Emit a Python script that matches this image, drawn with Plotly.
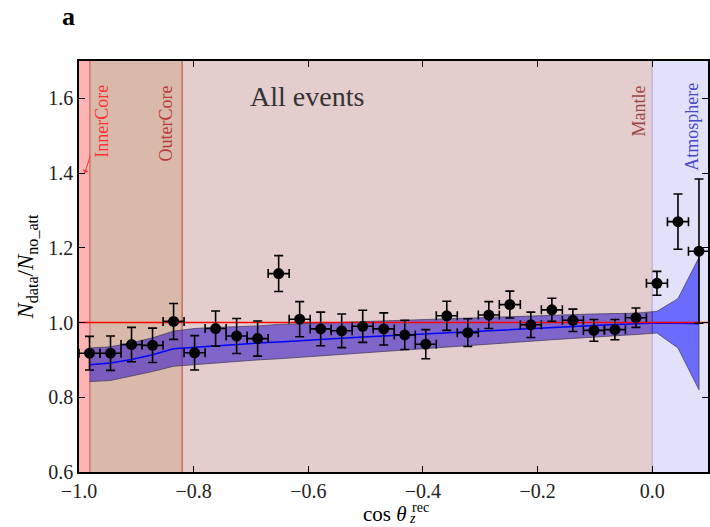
import numpy as np
import plotly.graph_objects as go

# Reconstructed zenith binning: 30 bins from cos = -1.0 to 0.1
bin_edges = np.linspace(-1.0, 0.1, 31)
bin_centers = 0.5 * (bin_edges[:-1] + bin_edges[1:])
half_width = 0.5 * (bin_edges[1] - bin_edges[0])

# Measured ratio N_data / N_no_att and its uncertainty
ratio = [0.918, 0.918, 0.941, 0.939, 1.003, 0.919, 0.984, 0.964, 0.957, 1.131,
         1.009, 0.983, 0.978, 0.990, 0.983, 0.967, 0.942, 1.018, 0.973, 1.020,
         1.048, 0.994, 1.034, 1.006, 0.979, 0.981, 1.013, 1.105, 1.270, 1.191]
ratio_err = [0.045, 0.046, 0.046, 0.046, 0.048, 0.046, 0.047, 0.047, 0.047, 0.048,
             0.047, 0.045, 0.045, 0.043, 0.043, 0.039, 0.039, 0.039, 0.037, 0.036,
             0.036, 0.034, 0.031, 0.030, 0.029, 0.027, 0.026, 0.032, 0.074, 0.193]

# Expected ratio (central) with its uncertainty band
pred_mid = [0.887, 0.892, 0.901, 0.914, 0.930, 0.934, 0.938, 0.943, 0.945, 0.948,
            0.952, 0.955, 0.958, 0.961, 0.964, 0.967, 0.970, 0.973, 0.975, 0.978,
            0.981, 0.984, 0.987, 0.990, 0.992, 0.995, 0.997, 0.999, 0.998, 0.997]
pred_hi = [0.932, 0.935, 0.946, 0.959, 0.977, 0.984, 0.987, 0.989, 0.991, 0.995,
           0.997, 0.999, 1.001, 1.003, 1.005, 1.007, 1.009, 1.011, 1.013, 1.014,
           1.016, 1.018, 1.020, 1.022, 1.023, 1.024, 1.025, 1.030, 1.064, 1.174]
pred_lo = [0.842, 0.845, 0.856, 0.869, 0.883, 0.887, 0.892, 0.896, 0.900, 0.903,
           0.905, 0.909, 0.913, 0.917, 0.922, 0.926, 0.930, 0.934, 0.938, 0.942,
           0.946, 0.950, 0.954, 0.958, 0.962, 0.965, 0.968, 0.972, 0.932, 0.820]

# Earth-layer boundaries in cos(theta_z)
inner_core_edge = -0.981
outer_core_edge = -0.820
surface_edge = 0.0
x_min, x_max = -1.0, 0.0974
y_min, y_max = 0.6, 1.7

serif = "Liberation Serif, Times New Roman, serif"

fig = go.Figure()

# Band split at the surface so the below-horizon part reads purple over the Earth shading
xc = np.asarray(bin_centers)
lo = np.asarray(pred_lo)
hi = np.asarray(pred_hi)
lo0 = float(np.interp(surface_edge, xc, lo))
hi0 = float(np.interp(surface_edge, xc, hi))
below = xc < surface_edge
above = xc > surface_edge


def band(xs, ylo, yhi, fill):
    xs = list(xs)
    fig.add_trace(go.Scatter(
        x=xs + xs[::-1], y=list(yhi) + list(ylo)[::-1],
        fill="toself", fillcolor=fill, mode="lines",
        line=dict(color="rgba(70,60,90,0.75)", width=1),
        hoverinfo="skip", showlegend=False))


band(list(xc[below]) + [surface_edge], list(lo[below]) + [lo0], list(hi[below]) + [hi0],
     "rgba(60,30,200,0.6)")
band([surface_edge] + list(xc[above]), [lo0] + list(lo[above]), [hi0] + list(hi[above]),
     "rgba(0,0,255,0.52)")

# Central expectation
fig.add_trace(go.Scatter(x=bin_centers, y=pred_mid, mode="lines",
                         line=dict(color="#0000ff", width=1.5),
                         hoverinfo="skip", showlegend=False))

# Reference line at ratio = 1
fig.add_trace(go.Scatter(x=[x_min, x_max], y=[1.0, 1.0], mode="lines",
                         line=dict(color="#ff0000", width=1.5),
                         hoverinfo="skip", showlegend=False))

# Data points
fig.add_trace(go.Scatter(
    x=bin_centers, y=ratio, mode="markers",
    marker=dict(color="black", size=11),
    error_y=dict(type="data", array=ratio_err, color="black", thickness=1.6, width=4.5),
    error_x=dict(type="constant", value=half_width, color="black", thickness=1.6, width=4.5),
    showlegend=False))

# Earth-layer shading
regions = [
    (x_min, inner_core_edge, "#ffb3b3"),
    (inner_core_edge, outer_core_edge, "#d9b9aa"),
    (outer_core_edge, surface_edge, "#e3cdcd"),
    (surface_edge, x_max, "#e1e1f9"),
]
shapes = []
for x0, x1, col in regions:
    shapes.append(dict(type="rect", xref="x", yref="y", x0=x0, x1=x1, y0=y_min, y1=y_max,
                       fillcolor=col, line=dict(width=0), layer="below"))
for xv, col in [(inner_core_edge, "#d06060"), (outer_core_edge, "#c05a4a"),
                (surface_edge, "#b8a8e8")]:
    shapes.append(dict(type="line", xref="x", yref="y", x0=xv, x1=xv, y0=y_min, y1=y_max,
                       line=dict(color=col, width=1.2), layer="below"))


def px_to_x(px):
    return (px - 79) / 575.0 - 1.0


def py_to_y(py):
    return 1.0 + (323 - py) / 372.5


annotations = [
    dict(text="<b>a</b>", xref="paper", yref="paper", x=(68 - 79) / 631.0,
         y=(472 - 17) / 411.0, xanchor="center", yanchor="middle", showarrow=False,
         font=dict(family=serif, size=26, color="black")),
    dict(text="All events", xref="x", yref="y", x=px_to_x(308), y=py_to_y(98),
         xanchor="center", yanchor="middle", showarrow=False,
         font=dict(family=serif, size=28, color="#333333")),
    dict(text="InnerCore", xref="x", yref="y", x=-0.99, y=1.4, ax=17, ay=-52,
         textangle=-90, showarrow=True, arrowhead=1, arrowsize=1, arrowwidth=1,
         arrowcolor="#ff3030", font=dict(family=serif, size=18, color="#ff3030")),
    dict(text="OuterCore", xref="x", yref="y", x=px_to_x(166), y=py_to_y(85),
         textangle=-90, xanchor="center", yanchor="top", showarrow=False,
         font=dict(family=serif, size=18, color="#b83a3a")),
    dict(text="Mantle", xref="x", yref="y", x=px_to_x(641), y=py_to_y(85),
         textangle=-90, xanchor="center", yanchor="top", showarrow=False,
         font=dict(family=serif, size=18, color="#a04545")),
    dict(text="Atmosphere", xref="x", yref="y", x=px_to_x(694), y=py_to_y(82),
         textangle=-90, xanchor="center", yanchor="top", showarrow=False,
         font=dict(family=serif, size=18, color="#4848c8")),
    # x-axis label: cos theta with stacked sub/superscripts
    dict(text="cos <i>θ</i>", xref="paper", yref="paper", x=(409 - 79) / 631.0,
         y=(472 - 514) / 411.0, xanchor="right", yanchor="middle", showarrow=False,
         borderpad=0, font=dict(family=serif, size=21, color="black")),
    dict(text="rec", xref="paper", yref="paper", x=(412 - 79) / 631.0,
         y=(472 - 507) / 411.0, xanchor="left", yanchor="middle", showarrow=False,
         borderpad=0, font=dict(family=serif, size=14, color="black")),
    dict(text="<i>z</i>", xref="paper", yref="paper", x=(409 - 79) / 631.0,
         y=(472 - 518) / 411.0, xanchor="left", yanchor="middle", showarrow=False,
         borderpad=0, font=dict(family=serif, size=14, color="black")),
]

axis_common = dict(ticks="inside", ticklen=6, tickwidth=1.4, tickcolor="black",
                   showline=True, linecolor="black", linewidth=1.5, mirror="ticks",
                   showgrid=False, zeroline=False, tickformat=".1f",
                   tickfont=dict(family=serif, size=20, color="#222222"))

fig.update_layout(
    width=710, height=527,
    margin=dict(l=79, r=0, t=61, b=55),
    paper_bgcolor="white", plot_bgcolor="white",
    shapes=shapes, annotations=annotations,
    xaxis=dict(range=[x_min, x_max], tickvals=[-1.0, -0.8, -0.6, -0.4, -0.2, 0.0],
               **axis_common),
    yaxis=dict(range=[y_min, y_max], tickvals=[0.6, 0.8, 1.0, 1.2, 1.4, 1.6],
               title=dict(text="<i>N</i><sub>data</sub>/<i>N</i><sub>no_att</sub>",
                          font=dict(family=serif, size=23, color="black"), standoff=8),
               **axis_common),
)

fig.write_html("out.html")
